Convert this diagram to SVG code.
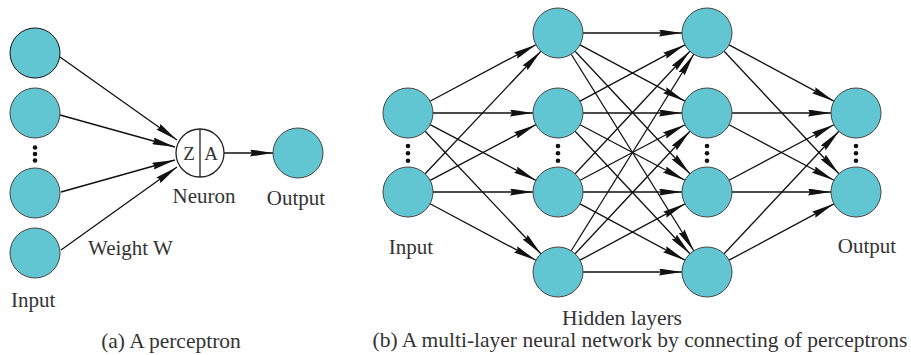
<svg xmlns="http://www.w3.org/2000/svg" width="911" height="355" viewBox="0 0 911 355">
<defs>
<style>
.n{fill:#62C6D2;stroke:#444;stroke-width:1}
.e{stroke:#111;stroke-width:1.3;fill:none;marker-end:url(#ah)}
.t{font-family:"Liberation Serif","Times New Roman",serif;font-size:21px;fill:#333}
.d{fill:#111}
</style>
<marker id="ah" markerUnits="userSpaceOnUse" viewBox="0 0 23 7" markerWidth="23" markerHeight="7" refX="23" refY="3.5" orient="auto">
<path d="M0,0 L23,3.5 L0,7 L2,3.5 z" fill="#111"/>
</marker>
</defs>
<rect width="911" height="355" fill="#fff"/>
<g id="connectors">
<line class="e" x1="60" y1="57" x2="177" y2="140"/>
<line class="e" x1="60" y1="115" x2="175" y2="147"/>
<line class="e" x1="61" y1="192" x2="175" y2="160"/>
<line class="e" x1="61" y1="250" x2="177" y2="167"/>
<line class="e" x1="224" y1="153" x2="273" y2="153"/>
<line class="e" x1="430.06" y1="101.24" x2="535.94" y2="44.76"/>
<line class="e" x1="433" y1="113" x2="533" y2="113"/>
<line class="e" x1="430.12" y1="124.65" x2="535.88" y2="180.35"/>
<line class="e" x1="425.16" y1="131.18" x2="540.84" y2="253.82"/>
<line class="e" x1="425.16" y1="173.82" x2="540.84" y2="51.18"/>
<line class="e" x1="430.12" y1="180.35" x2="535.88" y2="124.65"/>
<line class="e" x1="433" y1="192" x2="533" y2="192"/>
<line class="e" x1="430.06" y1="203.76" x2="535.94" y2="260.24"/>
<line class="e" x1="583" y1="33" x2="682" y2="33"/>
<line class="e" x1="580.03" y1="44.83" x2="684.97" y2="101.17"/>
<line class="e" x1="575.10" y1="51.24" x2="689.90" y2="173.76"/>
<line class="e" x1="571.23" y1="54.22" x2="693.77" y2="250.78"/>
<line class="e" x1="580.03" y1="101.17" x2="684.97" y2="44.83"/>
<line class="e" x1="583" y1="113" x2="682" y2="113"/>
<line class="e" x1="580.09" y1="124.71" x2="684.91" y2="180.29"/>
<line class="e" x1="575.10" y1="131.24" x2="689.90" y2="253.76"/>
<line class="e" x1="575.10" y1="173.76" x2="689.90" y2="51.24"/>
<line class="e" x1="580.09" y1="180.29" x2="684.91" y2="124.71"/>
<line class="e" x1="583" y1="192" x2="682" y2="192"/>
<line class="e" x1="580.03" y1="203.83" x2="684.97" y2="260.17"/>
<line class="e" x1="571.23" y1="250.78" x2="693.77" y2="54.22"/>
<line class="e" x1="575.10" y1="253.76" x2="689.90" y2="131.24"/>
<line class="e" x1="580.03" y1="260.17" x2="684.97" y2="203.83"/>
<line class="e" x1="583" y1="272" x2="682" y2="272"/>
<line class="e" x1="729.03" y1="44.83" x2="833.97" y2="101.17"/>
<line class="e" x1="724.10" y1="51.24" x2="838.90" y2="173.76"/>
<line class="e" x1="732" y1="113" x2="831" y2="113"/>
<line class="e" x1="729.09" y1="124.71" x2="833.91" y2="180.29"/>
<line class="e" x1="729.09" y1="180.29" x2="833.91" y2="124.71"/>
<line class="e" x1="732" y1="192" x2="831" y2="192"/>
<line class="e" x1="724.10" y1="253.76" x2="838.90" y2="131.24"/>
<line class="e" x1="729.03" y1="260.17" x2="833.97" y2="203.83"/>
</g>
<g id="a-in1"><circle class="n" cx="35" cy="53" r="25" style="stroke:#111"/></g>
<g id="a-in2"><circle class="n" cx="35" cy="113" r="25"/></g>
<g id="a-dots"><circle class="d" cx="35" cy="147.5" r="2.3"/><circle class="d" cx="35" cy="154" r="2.3"/><circle class="d" cx="35" cy="160.5" r="2.3"/></g>
<g id="a-in3"><circle class="n" cx="35" cy="193" r="25"/></g>
<g id="a-in4"><circle class="n" cx="35" cy="253" r="25"/></g>
<g id="a-neuron">
<circle cx="200" cy="153" r="24" fill="#fff" stroke="#222" stroke-width="1.3"/>
<line x1="200" y1="129" x2="200" y2="177" stroke="#222" stroke-width="1.3"/>
<text class="t" x="189" y="160" text-anchor="middle" style="font-size:19px">Z</text>
<text class="t" x="211" y="160" text-anchor="middle" style="font-size:19px">A</text>
</g>
<g id="a-out"><circle class="n" cx="298" cy="153" r="25"/></g>
<g id="b-in1"><circle class="n" cx="408" cy="113" r="25"/></g>
<g id="b-in2"><circle class="n" cx="408" cy="192" r="25"/></g>
<g id="b-h1a"><circle class="n" cx="558" cy="33" r="25"/></g>
<g id="b-h1b"><circle class="n" cx="558" cy="113" r="25"/></g>
<g id="b-h1c"><circle class="n" cx="558" cy="192" r="25"/></g>
<g id="b-h1d"><circle class="n" cx="558" cy="272" r="25"/></g>
<g id="b-h2a"><circle class="n" cx="707" cy="33" r="25"/></g>
<g id="b-h2b"><circle class="n" cx="707" cy="113" r="25"/></g>
<g id="b-h2c"><circle class="n" cx="707" cy="192" r="25"/></g>
<g id="b-h2d"><circle class="n" cx="707" cy="272" r="25"/></g>
<g id="b-o1"><circle class="n" cx="856" cy="113" r="25"/></g>
<g id="b-o2"><circle class="n" cx="856" cy="192" r="25"/></g>
<g id="b-dots">
<circle class="d" cx="408" cy="146" r="2.3"/><circle class="d" cx="408" cy="153.3" r="2.3"/><circle class="d" cx="408" cy="160.7" r="2.3"/>
<circle class="d" cx="558" cy="146" r="2.3"/><circle class="d" cx="558" cy="153.3" r="2.3"/><circle class="d" cx="558" cy="160.7" r="2.3"/>
<circle class="d" cx="707" cy="146" r="2.3"/><circle class="d" cx="707" cy="153.3" r="2.3"/><circle class="d" cx="707" cy="160.7" r="2.3"/>
<circle class="d" cx="856" cy="146" r="2.3"/><circle class="d" cx="856" cy="153.3" r="2.3"/><circle class="d" cx="856" cy="160.7" r="2.3"/>
</g>
<g id="labels">
<text class="t" x="204" y="203" text-anchor="middle">Neuron</text>
<text class="t" x="296" y="205" text-anchor="middle">Output</text>
<text class="t" x="88" y="255">Weight W</text>
<text class="t" x="11" y="307">Input</text>
<text class="t" x="171" y="348" text-anchor="middle" style="font-size:21.5px">(a) A perceptron</text>
<text class="t" x="411" y="254" text-anchor="middle">Input</text>
<text class="t" x="867" y="253" text-anchor="middle">Output</text>
<text class="t" x="622" y="325" text-anchor="middle" style="font-size:21.5px">Hidden layers</text>
<text class="t" x="640" y="347" text-anchor="middle" style="font-size:21.5px">(b) A multi-layer neural network by connecting of perceptrons</text>
</g>
</svg>
